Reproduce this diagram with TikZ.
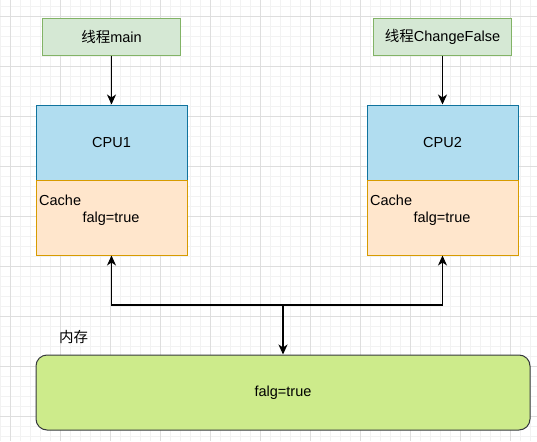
\documentclass[tikz,border=0pt]{standalone}
\usepackage{fontspec}
\setmainfont{Liberation Sans}
\newfontfamily\cjk{Noto Sans CJK SC}
\usetikzlibrary{arrows.meta,positioning}

\definecolor{threadfill}{HTML}{D5E8D4}
\definecolor{threaddraw}{HTML}{82B366}
\definecolor{cpufill}{HTML}{B1DDF0}
\definecolor{cpudraw}{HTML}{10739E}
\definecolor{cachefill}{HTML}{FFE6CC}
\definecolor{cachedraw}{HTML}{D79B00}
\definecolor{memfill}{HTML}{CDEB8B}
\definecolor{memdraw}{HTML}{36393D}

\tikzset{
  gridminor/.style={draw=black!5, line width=0.6pt},
  gridmajor/.style={draw=black!13, line width=0.8pt},
  threadbox/.style={draw=threaddraw, fill=threadfill, line width=1pt,
    minimum width=138pt, minimum height=37pt, inner sep=0pt},
  cpubox/.style={draw=cpudraw, fill=cpufill, line width=1pt,
    minimum width=151pt, minimum height=75pt, inner sep=0pt},
  cachebox/.style={draw=cachedraw, fill=cachefill, line width=1pt,
    minimum width=151pt, minimum height=75pt, inner sep=0pt},
  membox/.style={draw=memdraw, fill=memfill, line width=1pt, rounded corners=11pt,
    minimum width=494pt, minimum height=75pt, inner sep=0pt},
  arr/.style={-{Stealth[length=10pt,width=9pt,inset=3pt]}, line width=1.3pt},
}

\begin{document}
\begin{tikzpicture}[x=1pt, y=-1pt, font=\fontsize{14.5}{17}\selectfont]
	\useasboundingbox (0,0) rectangle (537,441);
	\fill[white] (0,0) rectangle (537,441);

	% grid
	\foreach \x in {0,10,...,530} \draw[gridminor] (\x,0) -- (\x,441);
	\foreach \y in {6.7,16.7,...,440} \draw[gridminor] (0,\y) -- (537,\y);
	\foreach \x in {10,60,...,510} \draw[gridmajor] (\x,0) -- (\x,441);
	\foreach \y in {16.7,66.7,...,420} \draw[gridmajor] (0,\y) -- (537,\y);

	% threads
	\node[threadbox] (t1) at (111.5,36.7) {\cjk 线程\rmfamily main};
	\node[threadbox] (t2) at (442.5,36.7) {\cjk 线程\rmfamily ChangeFalse};

	% CPUs and caches
	\node[cpubox] (cpu1) at (111.5,142.5) {CPU1};
	\node[cachebox] (cache1) at (111.5,217.5) {};
	\node[anchor=west, inner sep=0pt] (c1lbl) at (39,200) {Cache};
	\node[inner sep=0pt] (c1val) at (111,219) {falg=true};

	\node[cpubox] (cpu2) at (442.5,142.5) {CPU2};
	\node[cachebox] (cache2) at (442.5,217.5) {};
	\node[anchor=west, inner sep=0pt] (c2lbl) at (370,200) {Cache};
	\node[inner sep=0pt] (c2val) at (442,219) {falg=true};

	% memory
	\node[anchor=west, inner sep=0pt] (memlbl) at (59,337) {\cjk 内存};
	\node[membox] (mem) at (283,392.5) {falg=true};

	% connectors
	\draw[arr] (t1) -- (cpu1);
	\draw[arr] (t2) -- (cpu2);
	\coordinate (hub) at (283,305);
	\draw[arr] (hub) -- (mem.north);
	\draw[arr] (hub) -| (cache1.south);
	\draw[arr] (hub) -| (cache2.south);
\end{tikzpicture}
\end{document}
